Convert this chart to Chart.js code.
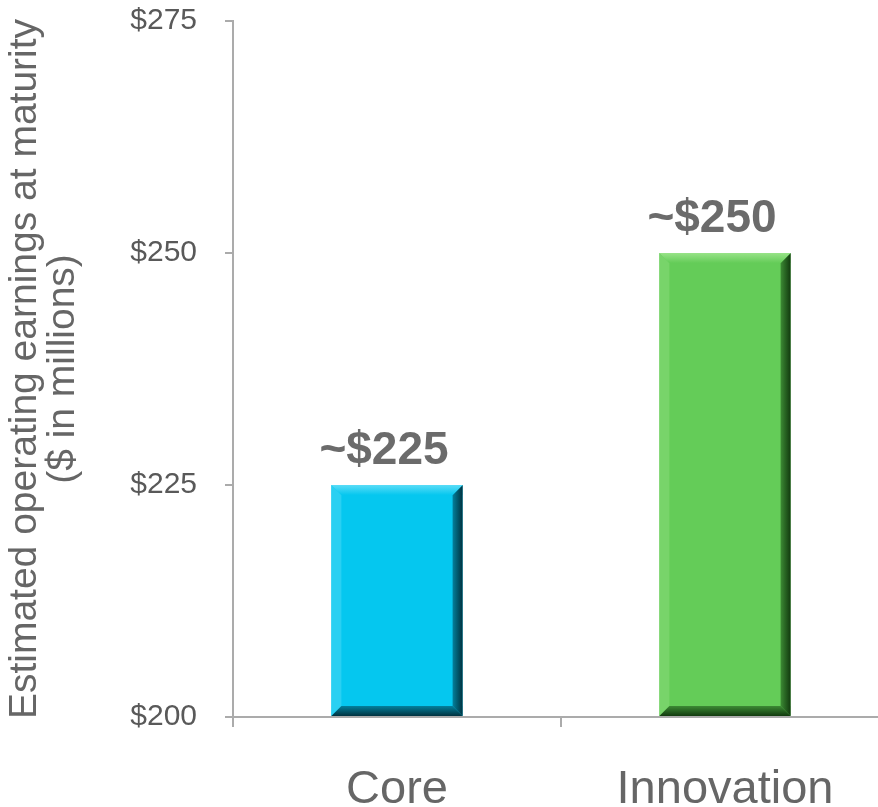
<!DOCTYPE html>
<html>
<head>
<meta charset="utf-8">
<script src="https://cdn.jsdelivr.net/npm/chart.js@4.4.0/dist/chart.umd.min.js"></script>
<style>
  html, body { margin:0; padding:0; background:#ffffff; overflow:hidden; }
  #wrap { width:900px; height:807px; }
</style>
</head>
<body>
<div id="wrap"><canvas id="c" width="900" height="807"></canvas></div>
<script>
// ---- data ----
const categories = ['Core', 'Innovation'];
const earnings = [225, 250];
const valueLabels = ['~$225', '~$250'];
const yTicks = [200, 225, 250, 275];
const yTitle = ['Estimated operating earnings at maturity', '($ in millions)'];

// ---- styles ----
const barFaces = ['#05c7ef', '#64cc58'];
const barLight = ['#5adcf7', '#98e388'];
const barLeft = ['#2ad0f2', '#78d46a'];
const barBottom = ['#03809c', '#3c8a34'];
const barDark = ['#00323f', '#113a0e'];
const FONT = "'Liberation Sans', Arial, sans-serif";

function poly(ctx, pts, fill) {
  ctx.beginPath();
  ctx.moveTo(pts[0][0], pts[0][1]);
  for (let i = 1; i < pts.length; i++) ctx.lineTo(pts[i][0], pts[i][1]);
  ctx.closePath();
  ctx.fillStyle = fill;
  ctx.fill();
}

const bevelPlugin = {
  id: 'bevel',
  afterDatasetsDraw(chart) {
    const ctx = chart.ctx;
    const meta = chart.getDatasetMeta(0);
    meta.data.forEach((bar, i) => {
      const p = bar.getProps(['x', 'y', 'base', 'width'], true);
      const l = p.x - p.width / 2, r = p.x + p.width / 2, t = p.y, b = p.base, s = 10;
      ctx.save();
      poly(ctx, [[l, t], [l + s, t + s], [l + s, b - s], [l, b]], barLeft[i]);
      const gb = ctx.createLinearGradient(0, b - s, 0, b);
      gb.addColorStop(0, barBottom[i]);
      gb.addColorStop(1, barDark[i]);
      poly(ctx, [[l, b], [r, b], [r - s, b - s], [l + s, b - s]], gb);
      const gr = ctx.createLinearGradient(r - s, 0, r, 0);
      gr.addColorStop(0, barBottom[i]);
      gr.addColorStop(1, barDark[i]);
      poly(ctx, [[r, t], [r, b], [r - s, b - s], [r - s, t + s]], gr);
      const gt = ctx.createLinearGradient(0, t, 0, t + s);
      gt.addColorStop(0, barLight[i]);
      gt.addColorStop(1, barFaces[i]);
      poly(ctx, [[l, t], [r, t], [r - s, t + s], [l + s, t + s]], gt);
      ctx.restore();
    });
  },
  afterDraw(chart) {
    const ctx = chart.ctx;
    const meta = chart.getDatasetMeta(0);
    ctx.save();
    ctx.font = "bold 46px " + FONT;
    ctx.fillStyle = '#6b6b6b';
    ctx.textAlign = 'center';
    ctx.textBaseline = 'alphabetic';
    meta.data.forEach((bar, i) => {
      ctx.fillText(valueLabels[i], bar.x - 13, bar.y - 21);
    });
    ctx.restore();
  }
};

new Chart(document.getElementById('c'), {
  type: 'bar',
  data: {
    labels: categories,
    datasets: [{
      data: earnings,
      base: yTicks[0],
      backgroundColor: barFaces,
      borderWidth: 0,
      barPercentage: 0.4,
      categoryPercentage: 1.0
    }]
  },
  options: {
    responsive: false,
    animation: false,
    devicePixelRatio: 1,
    layout: { padding: { top: 21, right: 11, bottom: 0, left: 0 } },
    plugins: { legend: { display: false }, tooltip: { enabled: false } },
    scales: {
      x: {
        offset: true,
        grid: { offset: true, drawOnChartArea: false, drawTicks: true, tickLength: 10, color: '#ababab', lineWidth: 2 },
        border: { display: true, color: '#ababab', width: 2 },
        ticks: { color: '#666666', font: { family: FONT, size: 47 }, padding: 35 },
        afterFit(scale) { scale.height = 90; scale.paddingLeft = 0; scale.paddingRight = 0; }
      },
      y: {
        min: 200, max: 275,
        afterBuildTicks(scale) { scale.ticks = yTicks.map(v => ({ value: v })); },
        grid: { drawOnChartArea: false, drawTicks: true, tickLength: 8, color: '#ababab', lineWidth: 2 },
        border: { display: true, color: '#ababab', width: 2 },
        ticks: { color: '#595959', font: { family: FONT, size: 30 }, padding: 28, callback: v => '$' + v },
        title: { display: true, text: yTitle, color: '#666666', font: { family: FONT, size: 39, lineHeight: 0.96 }, padding: { top: 7, bottom: 0 } },
        afterFit(scale) { scale.width = 233; scale.paddingTop = 0; scale.paddingBottom = 0; }
      }
    }
  },
  plugins: [bevelPlugin]
});
</script>
</body>
</html>
